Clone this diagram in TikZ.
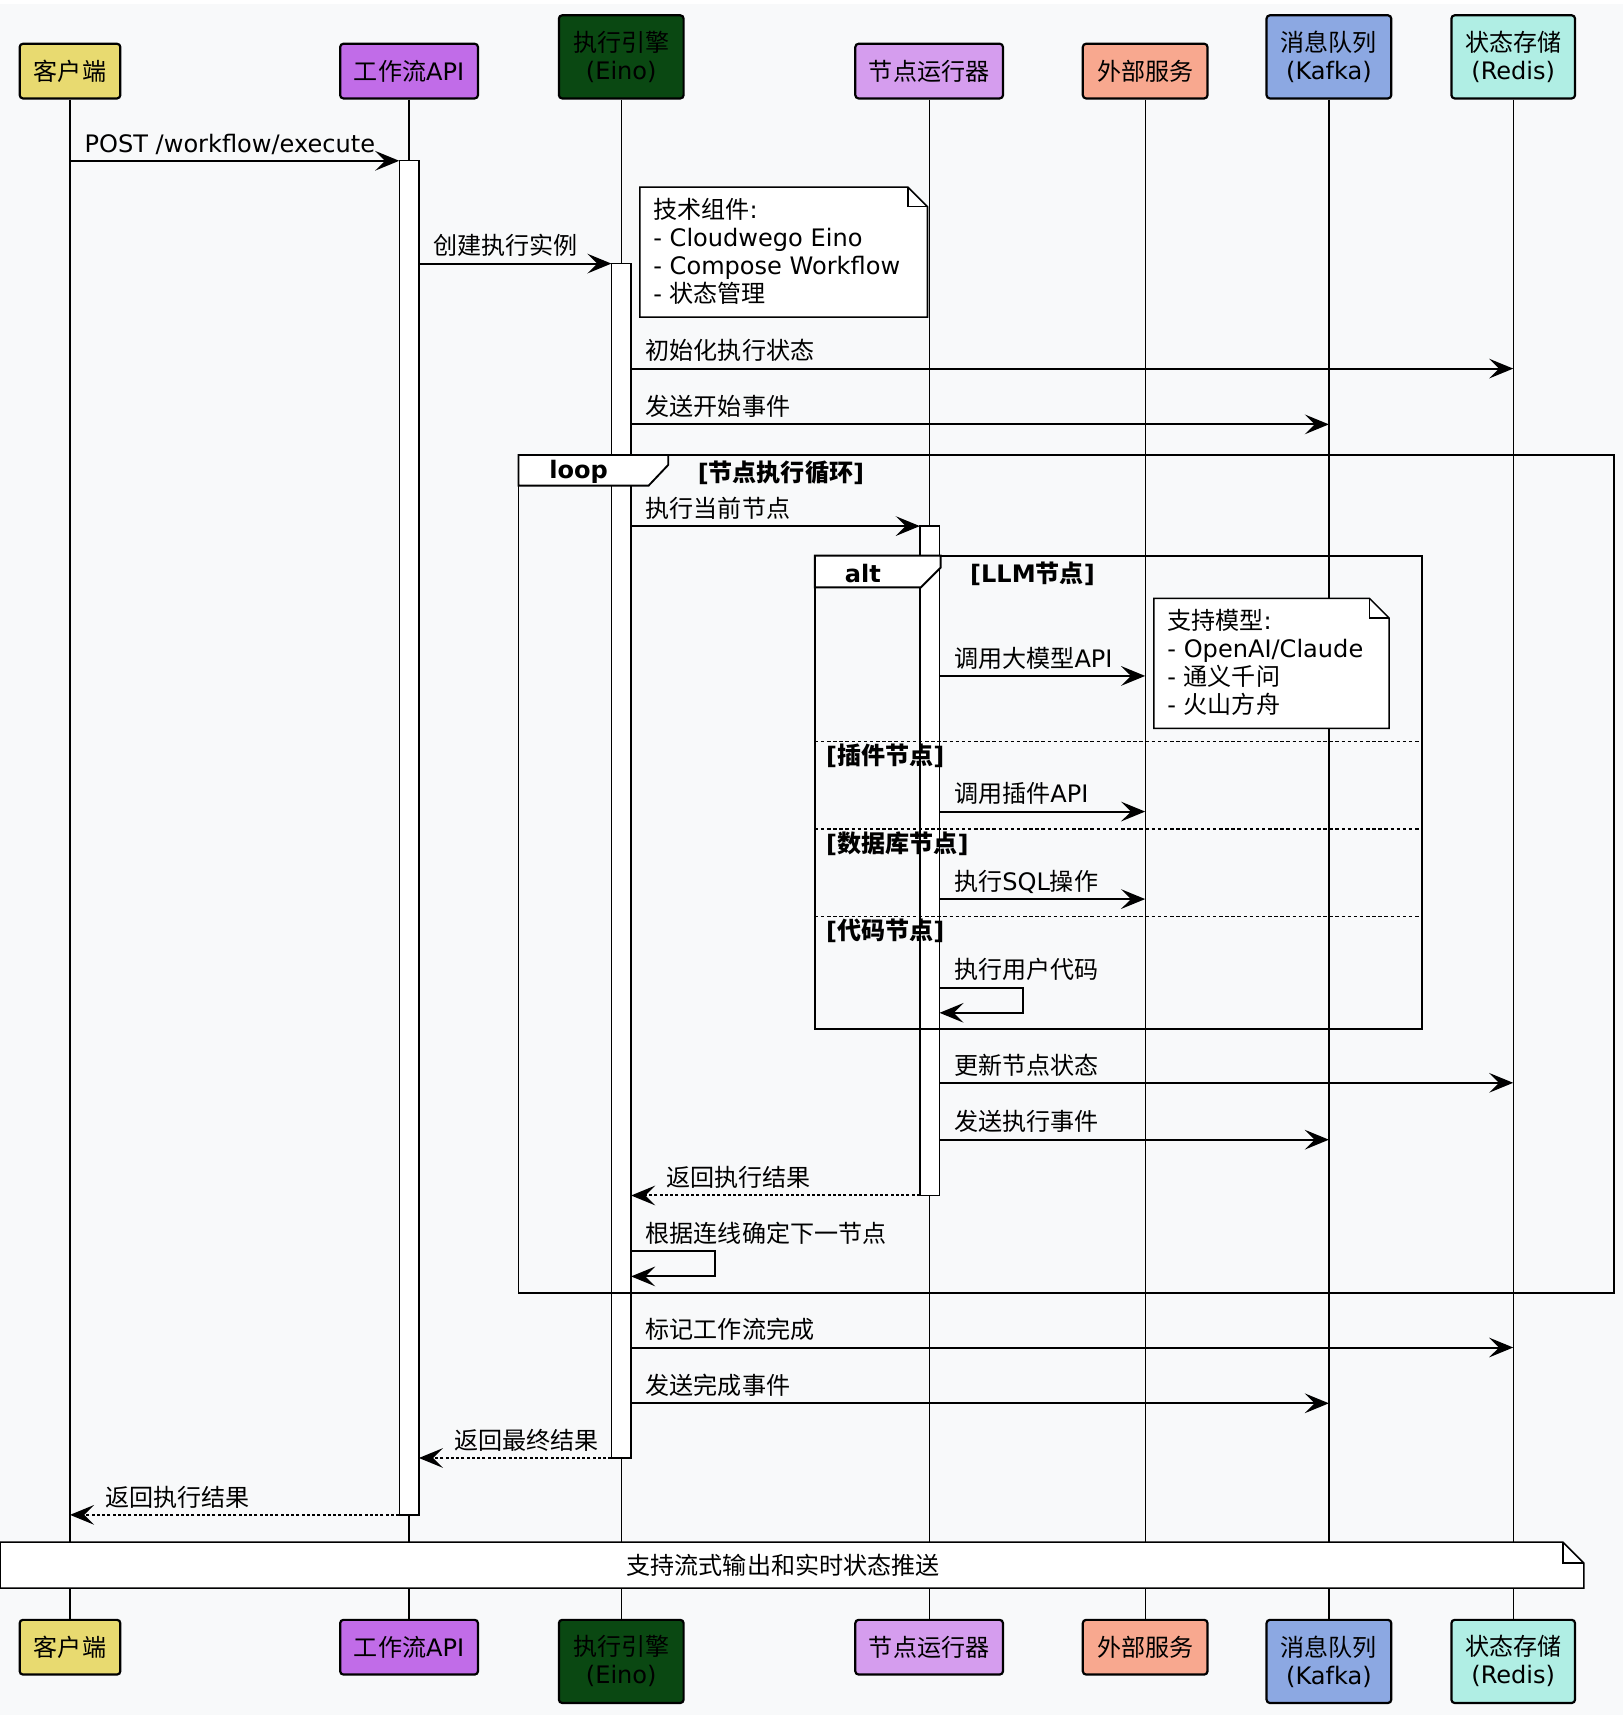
\documentclass[tikz,border=0pt]{standalone}
\usepackage{fontspec}
\setmainfont{DejaVu Sans}
\newfontfamily\zhfont{Noto Sans CJK SC}
\usetikzlibrary{arrows.meta}
\newcommand\zhtxt[1]{{\zhfont #1}}

\definecolor{bgc}{RGB}{248,249,250}
\definecolor{cCli}{RGB}{232,218,112}
\definecolor{cApi}{RGB}{193,108,232}
\definecolor{cEng}{RGB}{10,72,18}
\definecolor{cRun}{RGB}{213,157,238}
\definecolor{cExt}{RGB}{248,168,143}
\definecolor{cMq}{RGB}{140,168,226}
\definecolor{cRds}{RGB}{176,238,228}

\tikzset{
	actor/.style={draw=black, line width=1pt, rounded corners=1.5pt, inner sep=0pt, minimum height=25pt, align=center},
	tall/.style={minimum height=38pt},
	life/.style={line width=0.55pt},
	act/.style={draw=black, fill=white, line width=0.65pt, inner sep=0pt, outer sep=0pt, minimum width=9pt, anchor=north},
	msg/.style={line width=0.9pt, -{Stealth[length=11pt,width=9pt,inset=4.5pt]}},
	ret/.style={msg, dash pattern=on 1.4pt off 1pt},
	lbl/.style={anchor=base west, inner sep=0pt},
	frame/.style={line width=0.85pt},
	tab/.style={frame, fill=white},
	sep/.style={line width=0.7pt, dash pattern=on 1.6pt off 1.2pt},
	note/.style={draw=black, fill=white, line width=0.7pt},
	ntext/.style={anchor=north west, inner sep=0pt, align=left},
}

\begin{document}
\fontsize{11}{12.8}\selectfont
\begin{tikzpicture}[x=0.5pt, y=-0.5pt]
		%%%%% START %%%%%
		\useasboundingbox (0,0) rectangle (1484,1568);
		\fill[bgc] (0,4) rectangle (1484,1568);
		
		% participants, top row
		\node[actor, fill=cCli, minimum width=46pt] (cli) at (64,65) {\zhtxt{客户端}};
		\node[actor, fill=cApi, minimum width=63pt] (api) at (374,65) {\zhtxt{工作流}API};
		\node[actor, tall, fill=cEng, minimum width=57pt] (eng) at (568,52) {\zhtxt{执行引擎}\\(Eino)};
		\node[actor, fill=cRun, minimum width=67.5pt] (run) at (849.5,65) {\zhtxt{节点运行器}};
		\node[actor, fill=cExt, minimum width=57pt] (ext) at (1047,65) {\zhtxt{外部服务}};
		\node[actor, tall, fill=cMq, minimum width=57pt] (mq) at (1215,52) {\zhtxt{消息队列}\\(Kafka)};
		\node[actor, tall, fill=cRds, minimum width=56.5pt] (rds) at (1383.5,52) {\zhtxt{状态存储}\\(Redis)};
		
		% participants, bottom row
		\node[actor, fill=cCli, minimum width=46pt] (cli2) at (64,1506) {\zhtxt{客户端}};
		\node[actor, fill=cApi, minimum width=63pt] (api2) at (374,1506) {\zhtxt{工作流}API};
		\node[actor, tall, fill=cEng, minimum width=57pt] (eng2) at (568,1519) {\zhtxt{执行引擎}\\(Eino)};
		\node[actor, fill=cRun, minimum width=67.5pt] (run2) at (849.5,1506) {\zhtxt{节点运行器}};
		\node[actor, fill=cExt, minimum width=57pt] (ext2) at (1047,1506) {\zhtxt{外部服务}};
		\node[actor, tall, fill=cMq, minimum width=57pt] (mq2) at (1215,1519) {\zhtxt{消息队列}\\(Kafka)};
		\node[actor, tall, fill=cRds, minimum width=56.5pt] (rds2) at (1383.5,1519) {\zhtxt{状态存储}\\(Redis)};
		
		\draw[life] (cli) -- (cli2);
		\draw[life] (api) -- (api2);
		\draw[life] (eng) -- (eng2);
		\draw[life] (run) -- (run2);
		\draw[life] (ext) -- (ext2);
		\draw[life] (mq) -- (mq2);
		\draw[life] (rds) -- (rds2);
		
		% activations
		\node[act, minimum height=619pt] (apiAct) at (374,147) {};
		\node[act, minimum height=546pt] (engAct) at (568,241) {};
		\node[act, minimum height=306pt] (runAct) at (850,481) {};
		
		% loop and alt frames
		\draw[frame] (474,416) rectangle (1476,1182);
		\draw[frame] (745,508) rectangle (1300,941);
		\draw[sep] (745,678) -- (1300,678);
		\draw[sep] (745,758) -- (1300,758);
		\draw[sep] (745,838) -- (1300,838);
		\draw[tab] (474,416) -- (611,416) -- (611,425) -- (593,444) -- (474,444) -- cycle;
		\draw[tab] (745,508) -- (860,508) -- (860,519) -- (842,537) -- (745,537) -- cycle;
		\node[font=\bfseries] (tLoop) at (529,431) {loop};
		\node[font=\bfseries] (tLoopIf) at (714,432) {[\zhtxt{节点执行循环}]};
		\node[font=\bfseries] (tAlt) at (789,524) {alt};
		\node[font=\bfseries] (tLlm) at (944,525) {[LLM\zhtxt{节点}]};
		\node[lbl, font=\bfseries] (tPlug) at (755,699) {[\zhtxt{插件节点}]};
		\node[lbl, font=\bfseries] (tDb) at (755,779) {[\zhtxt{数据库节点}]};
		\node[lbl, font=\bfseries] (tCode) at (755,859) {[\zhtxt{代码节点}]};
		
		% notes
		\draw[note] (585,171) -- (830,171) -- (848,189) -- (848,290) -- (585,290) -- cycle;
		\draw[line width=0.7pt] (830,171) -- (830,189) -- (848,189);
		\node[ntext] (nTech) at (597,181) {\zhtxt{技术组件}:\\- Cloudwego Eino\\- Compose Workflow\\- \zhtxt{状态管理}};
		
		\draw[note] (1055,547) -- (1252,547) -- (1270,565) -- (1270,666) -- (1055,666) -- cycle;
		\draw[line width=0.7pt] (1252,547) -- (1252,565) -- (1270,565);
		\node[ntext] (nModel) at (1067,557) {\zhtxt{支持模型}:\\- OpenAI/Claude\\- \zhtxt{通义千问}\\- \zhtxt{火山方舟}};
		
		\draw[note] (0,1410) -- (1429,1410) -- (1448,1429) -- (1448,1452) -- (0,1452) -- cycle;
		\draw[line width=0.7pt] (1429,1410) -- (1429,1429) -- (1448,1429);
		\node (nStream) at (716,1431) {\zhtxt{支持流式输出和实时状态推送}};
		
		% messages
		\draw[msg] (cli |- apiAct.north) -- (apiAct.north west);
		\node[lbl] (m1) at (77,139) {POST /workflow/execute};
		\draw[msg] (apiAct.north east |- engAct.north) -- (engAct.north west);
		\node[lbl] (m2) at (396,233) {\zhtxt{创建执行实例}};
		\draw[msg] (engAct.east |- 0,337) -- (rds |- 0,337);
		\node[lbl] (m3) at (590,329) {\zhtxt{初始化执行状态}};
		\draw[msg] (engAct.east |- 0,388) -- (mq |- 0,388);
		\node[lbl] (m4) at (590,380) {\zhtxt{发送开始事件}};
		\draw[msg] (engAct.east |- runAct.north) -- (runAct.north west);
		\node[lbl] (m5) at (590,473) {\zhtxt{执行当前节点}};
		
		\draw[msg] (runAct.east |- 0,618) -- (ext |- 0,618);
		\node[lbl] (m6) at (872,610) {\zhtxt{调用大模型}API};
		\draw[msg] (runAct.east |- 0,742) -- (ext |- 0,742);
		\node[lbl] (m7) at (872,734) {\zhtxt{调用插件}API};
		\draw[msg] (runAct.east |- 0,822) -- (ext |- 0,822);
		\node[lbl] (m8) at (872,814) {\zhtxt{执行}SQL\zhtxt{操作}};
		\draw[msg] (runAct.east |- 0,903) -- (935,903) -- (935,926) -- (runAct.east |- 0,926);
		\node[lbl] (m9) at (872,895) {\zhtxt{执行用户代码}};
		
		\draw[msg] (runAct.east |- 0,990) -- (rds |- 0,990);
		\node[lbl] (m10) at (872,982) {\zhtxt{更新节点状态}};
		\draw[msg] (runAct.east |- 0,1042) -- (mq |- 0,1042);
		\node[lbl] (m11) at (872,1034) {\zhtxt{发送执行事件}};
		\draw[ret] (runAct.south west) -- (engAct.east |- runAct.south);
		\node[lbl] (m12) at (609,1085) {\zhtxt{返回执行结果}};
		\draw[msg] (engAct.east |- 0,1144) -- (654,1144) -- (654,1167) -- (engAct.east |- 0,1167);
		\node[lbl] (m13) at (590,1136) {\zhtxt{根据连线确定下一节点}};
		
		\draw[msg] (engAct.east |- 0,1232) -- (rds |- 0,1232);
		\node[lbl] (m14) at (590,1224) {\zhtxt{标记工作流完成}};
		\draw[msg] (engAct.east |- 0,1283) -- (mq |- 0,1283);
		\node[lbl] (m15) at (590,1275) {\zhtxt{发送完成事件}};
		\draw[ret] (engAct.south west) -- (apiAct.east |- engAct.south);
		\node[lbl] (m16) at (415,1325) {\zhtxt{返回最终结果}};
		\draw[ret] (apiAct.south west) -- (cli |- apiAct.south);
		\node[lbl] (m17) at (96,1377) {\zhtxt{返回执行结果}};
		
		%%%%% END %%%%%
\end{tikzpicture}
\end{document}
